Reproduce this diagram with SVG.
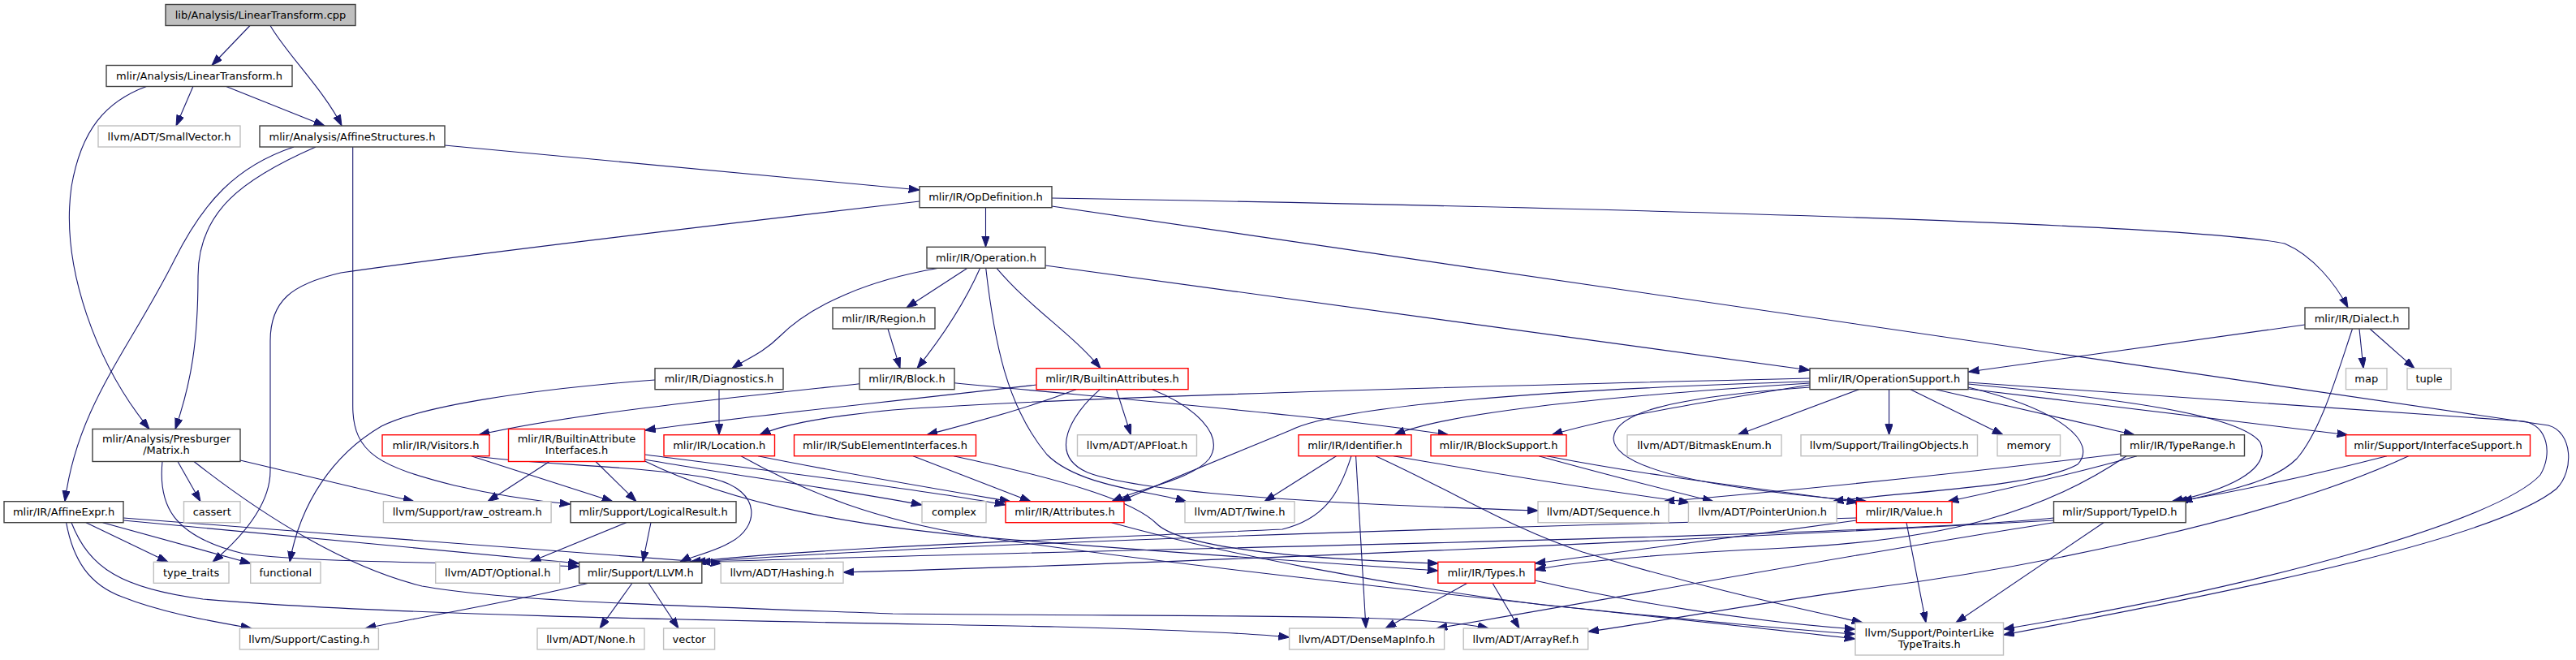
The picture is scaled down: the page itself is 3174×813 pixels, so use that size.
<svg xmlns="http://www.w3.org/2000/svg" width="3174" height="813" viewBox="0 0 3174 813">
<style>
.node rect{fill:#ffffff;stroke-width:1.4}
.b rect{stroke:#404040}
.g rect{stroke:#bfbfbf}
.r rect{stroke:#ff0000}
.root rect{fill:#bfbfbf;stroke:#404040}
.node text{font-family:'DejaVu Sans','Liberation Sans',sans-serif;font-size:13px;text-anchor:middle;fill:#000000}
#edges path{fill:none;stroke:#191970;stroke-width:1.1;marker-end:url(#ah)}
</style>
<defs>
<marker id="ah" markerWidth="14" markerHeight="10" refX="13.3" refY="4.67" orient="auto" markerUnits="userSpaceOnUse">
<path d="M0,0 L13.3,4.67 L0,9.33 z" fill="#191970" stroke="#191970" stroke-width="1"/>
</marker>
</defs>
<rect x="0" y="0" width="3174" height="813" fill="#ffffff"/>
<g id="edges">
<path d="M308,31.5 L261,80.5"/>
<path d="M333,31.5 C352,65 400,112 421,155"/>
<path d="M181,106.3 C130,125 100,160 88,230 C74,330 120,450 184,528.5"/>
<path d="M238,106.3 L217,155"/>
<path d="M278,106.3 L400,155"/>
<path d="M362,181 C290,205 250,250 215,320 C160,430 95,500 80,617.7"/>
<path d="M389,181 C300,220 244,260 244,340 C244,420 236,470 216,528.5"/>
<path d="M434.7,181 L434.7,500 C434.7,560 470,575 560,598 C620,612 670,618 703,621"/>
<path d="M548,179 L1133,234"/>
<path d="M1214.5,255.7 L1214.5,304.3"/>
<path d="M1296,244 C2000,256 2700,276 2815,300 C2850,315 2878,350 2893,379"/>
<path d="M1133,248 C900,275 600,310 420,336 C360,350 333,370 333,420 L333,580 C333,620 300,660 262,692.3"/>
<path d="M1296,254 L3140,524 C3170,532 3172,580 3150,602 C3080,660 2800,720 2468.5,782"/>
<path d="M1156.5,330.3 C1070,345 1000,375 960,415 C940,435 918,443 902,453.7"/>
<path d="M1192,330.3 L1117,379"/>
<path d="M1207.6,330.3 C1190,370 1165,410 1130,453.7"/>
<path d="M1214.7,330.3 C1225,420 1240,500 1290,560 C1330,600 1420,605 1462,618"/>
<path d="M1228,330.3 C1270,380 1320,410 1356,453.7"/>
<path d="M1288,327 L2230,456"/>
<path d="M1094,405 L1109,453.7"/>
<path d="M2840,400 L2425.4,458"/>
<path d="M2907,405 L2912,453.7"/>
<path d="M2920,405 L2975,453.7"/>
<path d="M2898.5,405 C2880,460 2860,530 2830,565 C2800,595 2740,605 2688,617.7"/>
<path d="M886,479.7 L886,535.7"/>
<path d="M807,468 C650,480 520,500 470,525 C410,560 370,620 357,692.3"/>
<path d="M1176,471.7 C1450,498 1650,515 1785,535.7"/>
<path d="M1059,472.7 C900,490 700,510 590,535.7"/>
<path d="M1277,474 C1050,500 900,515 794.5,530"/>
<path d="M1326,479.7 C1260,505 1200,520 1142,535.7"/>
<path d="M1375.5,479.7 L1393.4,535.7"/>
<path d="M1355.5,479.7 C1320,510 1290,560 1340,582 C1400,605 1600,620 1895,629"/>
<path d="M1419.7,479.7 C1470,500 1510,535 1490,565 C1470,590 1410,600 1370,617.7"/>
<path d="M2230,466 C1800,476 1300,490 1100,505 C1000,515 960,525 936,535.7"/>
<path d="M2230,470 C1900,480 1650,500 1590,530 C1530,555 1430,595 1380,617.7"/>
<path d="M2230,472 C1950,490 1780,510 1718,535.7"/>
<path d="M2230,474 C2100,495 1980,515 1912,535.7"/>
<path d="M2230,477 C2050,490 1990,510 1988,540 C1990,585 2150,605 2300,617.7"/>
<path d="M2290.5,479.7 L2141,535.7"/>
<path d="M2327.6,479.7 L2327.6,535.7"/>
<path d="M2354,479.7 L2468,535.7"/>
<path d="M2385,479.7 L2630,535.7"/>
<path d="M2425,479 L2893,535.7"/>
<path d="M2425,473 C2600,490 2760,510 2785,545 C2800,580 2740,605 2676,617.7"/>
<path d="M2425,477 C2540,505 2585,545 2560,572 C2510,600 2350,605 2258,617.7"/>
<path d="M2425,471 L3110,519 C3140,525 3145,560 3130,585 C3080,640 2800,720 2468.5,775"/>
<path d="M219,568.5 L247,617.7"/>
<path d="M296,567 L510,617.7"/>
<path d="M200,568.5 C195,620 210,660 300,682 C400,695 600,692 713.6,698"/>
<path d="M239,568.5 C330,640 430,700 520,722 C620,740 800,745 1100,756 C1500,760 1750,755 1834,774"/>
<path d="M106,643.7 L207,692.3"/>
<path d="M126.5,643.7 L309,694"/>
<path d="M152,641 L713.6,694"/>
<path d="M152,638 C400,658 700,678 889,694"/>
<path d="M81.6,643.7 C90,690 110,720 150,735 C200,755 260,765 310,774"/>
<path d="M88,643.7 C110,700 150,725 250,738 C500,760 1000,766 1300,772 C1450,776 1540,780 1588.6,785"/>
<path d="M771.8,643.7 L653,692.3"/>
<path d="M802,643.7 L792,692.3"/>
<path d="M725,718.3 C640,740 520,760 450,774"/>
<path d="M779,718.3 L739,774"/>
<path d="M799,718.3 L836,774"/>
<path d="M580.7,561.7 L755,617.7"/>
<path d="M585,561.7 C650,572 800,574 880,590 C940,605 935,650 900,668 C880,680 850,686 838,692.3"/>
<path d="M677,568.5 L601,617.7"/>
<path d="M734,568.5 L784,617.7"/>
<path d="M794.5,566 C900,585 1050,605 1136,622"/>
<path d="M794.5,560 C950,580 1150,605 1239,622"/>
<path d="M794.5,568 C900,620 1050,650 1250,665 C1500,685 1700,698 1772,703"/>
<path d="M934,561.7 C1050,585 1170,605 1245,617.7"/>
<path d="M913,561.7 C1000,610 1080,640 1200,660 C1500,705 2100,765 2286,787"/>
<path d="M1125,561.7 L1270,617.7"/>
<path d="M1175,561.7 C1330,595 1400,620 1425,645 C1460,680 1650,690 1772,694"/>
<path d="M1646.5,561.7 L1558,617.7"/>
<path d="M1665,561.7 C1650,610 1630,640 1580,652 C1300,665 1000,675 850,692.3"/>
<path d="M1670.6,561.7 L1683,774"/>
<path d="M1695,561.7 C1800,610 1860,650 1950,680 C2100,725 2220,750 2295,767"/>
<path d="M1717,561.7 C1850,585 1980,605 2082,619"/>
<path d="M1896,561.7 C1980,585 2060,605 2111,617.7"/>
<path d="M1906,561.7 C2050,590 2200,605 2289,619"/>
<path d="M2633,561.7 C2550,585 2460,605 2400,617.7"/>
<path d="M2613,559 C2400,585 2200,605 2050,617.7"/>
<path d="M2620,561.7 C2520,630 2400,665 2200,675 C2050,682 1950,690 1891,702"/>
<path d="M2941,561.7 C2850,585 2760,605 2682,617.7"/>
<path d="M2967.7,561.7 C2800,640 2500,700 2300,725 C2150,745 2050,765 1956.7,778"/>
<path d="M2287.4,641 C2150,660 2000,680 1891,694"/>
<path d="M2287.4,638 C1800,650 1200,668 856,692.3"/>
<path d="M2349,643.7 L2373,767"/>
<path d="M2530.5,638 C2300,662 1400,675 862,692.3"/>
<path d="M2530.5,641 C2000,670 1400,695 1039,705"/>
<path d="M2530.5,643.7 C2300,680 2000,735 1770,774"/>
<path d="M2592,643.7 L2410,767"/>
<path d="M1808,718.3 L1707,774"/>
<path d="M1839,718.3 L1872,774"/>
<path d="M1891,715 C2000,740 2150,765 2286,775"/>
<path d="M1369.6,643.7 C1500,680 1700,720 1900,745 C2100,765 2200,775 2286,781"/>
</g>
<g id="n0" class="node root"><rect x="204" y="5.5" width="234" height="26"/><text x="321" y="23">lib/Analysis/LinearTransform.cpp</text></g>
<g id="n1" class="node b"><rect x="131" y="80.5" width="229" height="26"/><text x="245.5" y="98">mlir/Analysis/LinearTransform.h</text></g>
<g id="n2" class="node g"><rect x="121" y="155" width="175" height="26"/><text x="208.5" y="172.5">llvm/ADT/SmallVector.h</text></g>
<g id="n3" class="node b"><rect x="320" y="155" width="228" height="26"/><text x="434" y="172.5">mlir/Analysis/AffineStructures.h</text></g>
<g id="n4" class="node b"><rect x="1133" y="229.7" width="163" height="26"/><text x="1214.5" y="247.2">mlir/IR/OpDefinition.h</text></g>
<g id="n5" class="node b"><rect x="1142" y="304.3" width="146" height="26"/><text x="1215" y="321.8">mlir/IR/Operation.h</text></g>
<g id="n6" class="node b"><rect x="1026" y="379" width="126" height="26"/><text x="1089" y="396.5">mlir/IR/Region.h</text></g>
<g id="n7" class="node b"><rect x="2840" y="379" width="128" height="26"/><text x="2904" y="396.5">mlir/IR/Dialect.h</text></g>
<g id="n8" class="node b"><rect x="807" y="453.7" width="158" height="26"/><text x="886" y="471.2">mlir/IR/Diagnostics.h</text></g>
<g id="n9" class="node b"><rect x="1059" y="453.7" width="117" height="26"/><text x="1117.5" y="471.2">mlir/IR/Block.h</text></g>
<g id="n10" class="node r"><rect x="1277" y="453.7" width="187" height="26"/><text x="1370.5" y="471.2">mlir/IR/BuiltinAttributes.h</text></g>
<g id="n11" class="node b"><rect x="2230" y="453.7" width="195" height="26"/><text x="2327.5" y="471.2">mlir/IR/OperationSupport.h</text></g>
<g id="n12" class="node g"><rect x="2890.5" y="453.7" width="50.5" height="26"/><text x="2915.75" y="471.2">map</text></g>
<g id="n13" class="node g"><rect x="2966" y="453.7" width="54" height="26"/><text x="2993" y="471.2">tuple</text></g>
<g id="n14" class="node b"><rect x="114" y="528.5" width="182" height="40"/><text x="205" y="545">mlir/Analysis/Presburger</text><text x="205" y="559">/Matrix.h</text></g>
<g id="n15" class="node r"><rect x="471" y="535.7" width="132" height="26"/><text x="537" y="553.2">mlir/IR/Visitors.h</text></g>
<g id="n16" class="node r"><rect x="626.5" y="528.5" width="168" height="40"/><text x="710.5" y="545">mlir/IR/BuiltinAttribute</text><text x="710.5" y="559">Interfaces.h</text></g>
<g id="n17" class="node r"><rect x="818" y="535.7" width="136.5" height="26"/><text x="886.25" y="553.2">mlir/IR/Location.h</text></g>
<g id="n18" class="node r"><rect x="978.5" y="535.7" width="224" height="26"/><text x="1090.5" y="553.2">mlir/IR/SubElementInterfaces.h</text></g>
<g id="n19" class="node g"><rect x="1327.5" y="535.7" width="147" height="26"/><text x="1401" y="553.2">llvm/ADT/APFloat.h</text></g>
<g id="n20" class="node r"><rect x="1600" y="535.7" width="139" height="26"/><text x="1669.5" y="553.2">mlir/IR/Identifier.h</text></g>
<g id="n21" class="node r"><rect x="1763" y="535.7" width="167" height="26"/><text x="1846.5" y="553.2">mlir/IR/BlockSupport.h</text></g>
<g id="n22" class="node g"><rect x="2005" y="535.7" width="190" height="26"/><text x="2100" y="553.2">llvm/ADT/BitmaskEnum.h</text></g>
<g id="n23" class="node g"><rect x="2219" y="535.7" width="217.5" height="26"/><text x="2327.75" y="553.2">llvm/Support/TrailingObjects.h</text></g>
<g id="n24" class="node g"><rect x="2461" y="535.7" width="77.5" height="26"/><text x="2499.75" y="553.2">memory</text></g>
<g id="n25" class="node b"><rect x="2613" y="535.7" width="152.5" height="26"/><text x="2689.25" y="553.2">mlir/IR/TypeRange.h</text></g>
<g id="n26" class="node r"><rect x="2890.5" y="535.7" width="227" height="26"/><text x="3004" y="553.2">mlir/Support/InterfaceSupport.h</text></g>
<g id="n27" class="node b"><rect x="5" y="617.7" width="147" height="26"/><text x="78.5" y="635.2">mlir/IR/AffineExpr.h</text></g>
<g id="n28" class="node g"><rect x="226.5" y="617.7" width="69.5" height="26"/><text x="261.25" y="635.2">cassert</text></g>
<g id="n29" class="node g"><rect x="472.4" y="617.7" width="206.7" height="26"/><text x="575.75" y="635.2">llvm/Support/raw_ostream.h</text></g>
<g id="n30" class="node b"><rect x="703" y="617.7" width="204" height="26"/><text x="805" y="635.2">mlir/Support/LogicalResult.h</text></g>
<g id="n31" class="node g"><rect x="1136" y="617.7" width="79" height="26"/><text x="1175.5" y="635.2">complex</text></g>
<g id="n32" class="node r"><rect x="1239" y="617.7" width="146" height="26"/><text x="1312" y="635.2">mlir/IR/Attributes.h</text></g>
<g id="n33" class="node g"><rect x="1460" y="617.7" width="135" height="26"/><text x="1527.5" y="635.2">llvm/ADT/Twine.h</text></g>
<g id="n34" class="node g"><rect x="1895" y="617.7" width="161" height="26"/><text x="1975.5" y="635.2">llvm/ADT/Sequence.h</text></g>
<g id="n35" class="node g"><rect x="2080.4" y="617.7" width="182.7" height="26"/><text x="2171.75" y="635.2">llvm/ADT/PointerUnion.h</text></g>
<g id="n36" class="node r"><rect x="2287.4" y="617.7" width="117.7" height="26"/><text x="2346.25" y="635.2">mlir/IR/Value.h</text></g>
<g id="n37" class="node b"><rect x="2530.5" y="617.7" width="162.7" height="26"/><text x="2611.85" y="635.2">mlir/Support/TypeID.h</text></g>
<g id="n38" class="node g"><rect x="189.3" y="692.3" width="92.7" height="26"/><text x="235.65" y="709.8">type_traits</text></g>
<g id="n39" class="node g"><rect x="308.7" y="692.3" width="86.3" height="26"/><text x="351.85" y="709.8">functional</text></g>
<g id="n40" class="node g"><rect x="536.7" y="692.3" width="153" height="26"/><text x="613.2" y="709.8">llvm/ADT/Optional.h</text></g>
<g id="n41" class="node b"><rect x="713.6" y="692.3" width="151.2" height="26"/><text x="789.2" y="709.8">mlir/Support/LLVM.h</text></g>
<g id="n42" class="node g"><rect x="888.2" y="692.3" width="150.8" height="26"/><text x="963.6" y="709.8">llvm/ADT/Hashing.h</text></g>
<g id="n43" class="node r"><rect x="1771.8" y="692.3" width="119.5" height="26"/><text x="1831.55" y="709.8">mlir/IR/Types.h</text></g>
<g id="n44" class="node g"><rect x="295.4" y="774" width="171" height="26"/><text x="380.9" y="791.5">llvm/Support/Casting.h</text></g>
<g id="n45" class="node g"><rect x="662" y="774" width="132" height="26"/><text x="728" y="791.5">llvm/ADT/None.h</text></g>
<g id="n46" class="node g"><rect x="817.6" y="774" width="63" height="26"/><text x="849.1" y="791.5">vector</text></g>
<g id="n47" class="node g"><rect x="1588.6" y="774" width="191" height="26"/><text x="1684.1" y="791.5">llvm/ADT/DenseMapInfo.h</text></g>
<g id="n48" class="node g"><rect x="1803.2" y="774" width="153.5" height="26"/><text x="1879.95" y="791.5">llvm/ADT/ArrayRef.h</text></g>
<g id="n49" class="node g"><rect x="2286" y="767" width="182.5" height="40"/><text x="2377.25" y="783.5">llvm/Support/PointerLike</text><text x="2377.25" y="797.5">TypeTraits.h</text></g>
</svg>
